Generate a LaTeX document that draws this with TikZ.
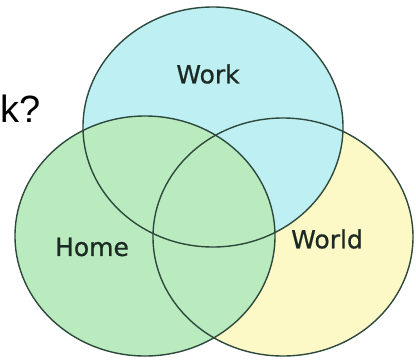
\documentclass[tikz,border=0pt]{standalone}
\usepackage{fontspec}
\setmainfont{DejaVu Sans}[FakeBold=0.7]
\newfontfamily\arialfont{Liberation Sans}
\definecolor{workc}{RGB}{190,239,242}
\definecolor{homec}{RGB}{186,235,190}
\definecolor{worldc}{RGB}{252,249,198}
\definecolor{outl}{RGB}{45,72,60}
\definecolor{lbltext}{RGB}{28,42,36}
\begin{document}
\begin{tikzpicture}[x=1pt,y=-1pt,
  setline/.style={draw=outl, line width=1.4pt},
  lbl/.style={font=\fontsize{25}{30}\selectfont, text=lbltext, inner sep=0pt}]
\useasboundingbox (0,0) rectangle (416,360);
\fill[white] (0,0) rectangle (416,360);
% fills (World under Work under Home)
\fill[worldc] (283,237) ellipse [x radius=130, y radius=119];
\fill[workc] (213,127) ellipse [x radius=130, y radius=120];
\fill[homec] (145,236) ellipse [x radius=130, y radius=120];
% outlines
\draw[setline] (283,237) ellipse [x radius=130, y radius=119];
\draw[setline] (213,127) ellipse [x radius=130, y radius=120];
\draw[setline] (145,236) ellipse [x radius=130, y radius=120];
% labels
\node[lbl] (work) at (208,74) {Work};
\node[lbl] (home) at (92,247) {Home};
\node[lbl] (world) at (327,239) {World};
\node[anchor=base west, inner sep=0pt, font=\arialfont\fontsize{38}{40}\selectfont] (kq) at (0,122) {k?};
\end{tikzpicture}
\end{document}
